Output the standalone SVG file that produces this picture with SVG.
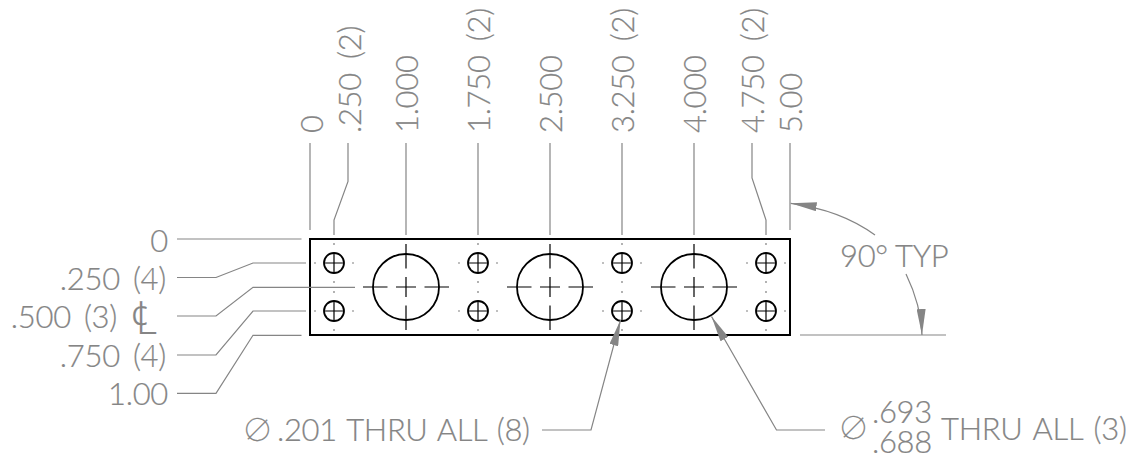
<svg xmlns="http://www.w3.org/2000/svg" width="1131" height="457" viewBox="0 0 1131 457">
<style>
text{font-family:"Lato","Liberation Sans",sans-serif;font-size:31px;fill:#858585;stroke:#858585;stroke-width:.2;font-weight:300;letter-spacing:-.3px;word-spacing:3px}
.e{text-anchor:end;word-spacing:5px}
.r{word-spacing:6px}
.dia{font-family:"Noto Sans CJK JP",sans-serif;font-weight:100;letter-spacing:0;word-spacing:0;font-size:31px}
.cl{font-family:"Noto Sans",sans-serif;font-weight:300;letter-spacing:0;word-spacing:0;font-size:46px}
.c path{fill:none;stroke:#858585;stroke-width:1.2}
.k{fill:none;stroke:#000;stroke-width:1.8}
.t{fill:none;stroke:#000;stroke-width:1.2}
</style>
<defs>
<marker id="a" viewBox="0 0 26 9" refX="26" refY="4.500" markerWidth="26" markerHeight="9" markerUnits="userSpaceOnUse" orient="auto"><path d="M0 0L26 4.500L0 9Z" fill="#858585"/></marker>
<g id="sh"><circle r="10" class="k"/><path d="M-10 0H10M0-10V10M-19.500 0h1M18.500 0h1M0-19.500v1M0 18.500v1" class="t"/></g>
<g id="lh"><circle r="33" class="k"/><path d="M-43 0H-18.500M-10 0H10M18.500 0H43M0-43V-18.500M0-10V10M0 18.500V43" class="t"/></g>
</defs>
<g id="part">
<rect x="310" y="239" width="480" height="96" fill="none" stroke="#000" stroke-width="2"/>
<use href="#sh" x="334" y="263"/><use href="#sh" x="334" y="311"/>
<use href="#sh" x="478" y="263"/><use href="#sh" x="478" y="311"/>
<use href="#sh" x="622" y="263"/><use href="#sh" x="622" y="311"/>
<use href="#sh" x="766" y="263"/><use href="#sh" x="766" y="311"/>
<use href="#lh" x="406" y="287"/><use href="#lh" x="550" y="287"/><use href="#lh" x="694" y="287"/>
</g>
<g id="connectors" class="c">
<path d="M310 143V230M348 143V181.500L334 220V235M406 143V235M478 143V235M550 143V235M622 143V235M694 143V235M752 143V178L766 220V235M790 143V230"/>
<path d="M177 239H301.500M177 277.500H216L253 263H306M177 316H216L253 287.300H355M177 355H216L253 311H306M177 393.300H216L253 335.300H301.500"/>
<path d="M800 335H946"/>
<path d="M875 235Q841 210 790.700 203.300" marker-end="url(#a)"/>
<path d="M906 274Q921 305 922 335" marker-end="url(#a)"/>
<path d="M542 430H591L620.500 320" marker-end="url(#a)"/>
<path d="M825 430H776.500L711.500 316.500" marker-end="url(#a)"/>
</g>
<g id="labels">
<text class="e" x="168" y="252">0</text>
<text class="e" x="166" y="290">.250 (4)</text>
<text class="e" x="117" y="328">.500 (3)</text>
<text class="cl" x="132" y="334">℄</text>
<text class="e" x="166" y="367">.750 (4)</text>
<text class="e" x="168" y="405">1.00</text>
<text transform="translate(323,133) rotate(-90)">0</text>
<text class="r" transform="translate(361,133) rotate(-90)">.250 (2)</text>
<text transform="translate(418,133) rotate(-90)">1.000</text>
<text class="r" transform="translate(490,133) rotate(-90)">1.750 (2)</text>
<text transform="translate(562,133) rotate(-90)">2.500</text>
<text class="r" transform="translate(634,133) rotate(-90)">3.250 (2)</text>
<text transform="translate(706,133) rotate(-90)">4.000</text>
<text class="r" transform="translate(764,133) rotate(-90)">4.750 (2)</text>
<text transform="translate(802,133) rotate(-90)">5.00</text>
<text x="840" y="267" style="word-spacing:0">90° TYP</text>
<text class="dia" x="242" y="441">∅</text>
<text x="277" y="441" style="word-spacing:2px">.201 THRU ALL (8)</text>
<text class="dia" x="838" y="439">∅</text>
<text x="872" y="423">.693</text>
<text x="872" y="453">.688</text>
<text x="941" y="440">THRU ALL (3)</text>
</g>
</svg>
